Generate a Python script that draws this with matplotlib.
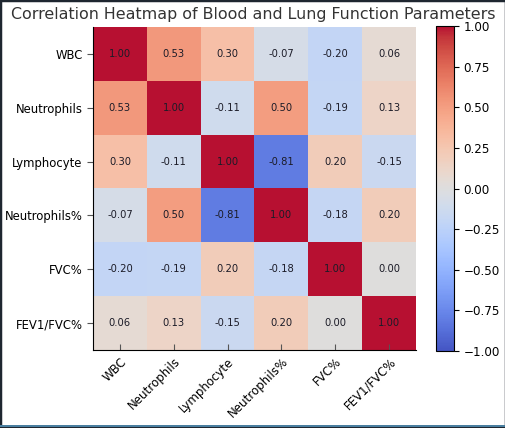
import numpy as np
import matplotlib
matplotlib.use('Agg')
import matplotlib.pyplot as plt
from matplotlib.patches import Rectangle

labels = ['WBC', 'Neutrophils', 'Lymphocyte', 'Neutrophils%', 'FVC%', 'FEV1/FVC%']
corr = np.array([
    [1.00, 0.53, 0.30, -0.07, -0.20, 0.06],
    [0.53, 1.00, -0.11, 0.50, -0.19, 0.13],
    [0.30, -0.11, 1.00, -0.81, 0.20, -0.15],
    [-0.07, 0.50, -0.81, 1.00, -0.18, 0.20],
    [-0.20, -0.19, 0.20, -0.18, 1.00, 0.00],
    [0.06, 0.13, -0.15, 0.20, 0.00, 1.00],
])
cbar_ticks = [-1.0, -0.75, -0.5, -0.25, 0.0, 0.25, 0.5, 0.75, 1.0]

W, H = 506, 428
fig = plt.figure(figsize=(W / 100, H / 100), dpi=100)

ax = fig.add_axes([93 / W, (H - 350) / H, 323 / W, 323 / H])
cax = fig.add_axes([436 / W, (H - 351) / H, 18 / W, 325 / H])

im = ax.imshow(corr, cmap='coolwarm', vmin=-1, vmax=1, aspect='auto', alpha=0.95)
n = len(labels)
for i in range(n):
    for j in range(n):
        ax.text(j, i, '%.2f' % corr[i, j], ha='center', va='center',
                fontsize=7.2, color='#1c1c28')

ax.set_xticks(range(n))
ax.set_yticks(range(n))
ax.set_xticklabels(labels, rotation=45, ha='right', rotation_mode='anchor', fontsize=8.5)
ax.set_yticklabels(labels, fontsize=8.4)
ax.tick_params(axis='x', direction='in', length=4, color='#555555')
ax.tick_params(axis='y', direction='out', length=4, color='#555555')
ax.spines['top'].set_visible(False)
ax.spines['right'].set_visible(False)

cb = fig.colorbar(im, cax=cax, ticks=cbar_ticks)
cb.ax.set_yticklabels(['%.2f' % t if t >= 0 else '\u2212%.2f' % -t for t in cbar_ticks])
cb.ax.tick_params(labelsize=8.6)

fig.text(0.5, (H - 15) / H, 'Correlation Heatmap of Blood and Lung Function Parameters',
         ha='center', va='center', fontsize=11.4, color='#333333')

# screenshot frame
fig.patches.append(Rectangle((0, 0), 1, 1, transform=fig.transFigure, fill=False,
                             edgecolor='#1e2630', linewidth=2.5))
fig.patches.append(Rectangle((0, 1.5 / H), 1, 2 / H, transform=fig.transFigure,
                             facecolor='#4a7fa0', edgecolor='none'))

fig.savefig('out.png', dpi=100)
